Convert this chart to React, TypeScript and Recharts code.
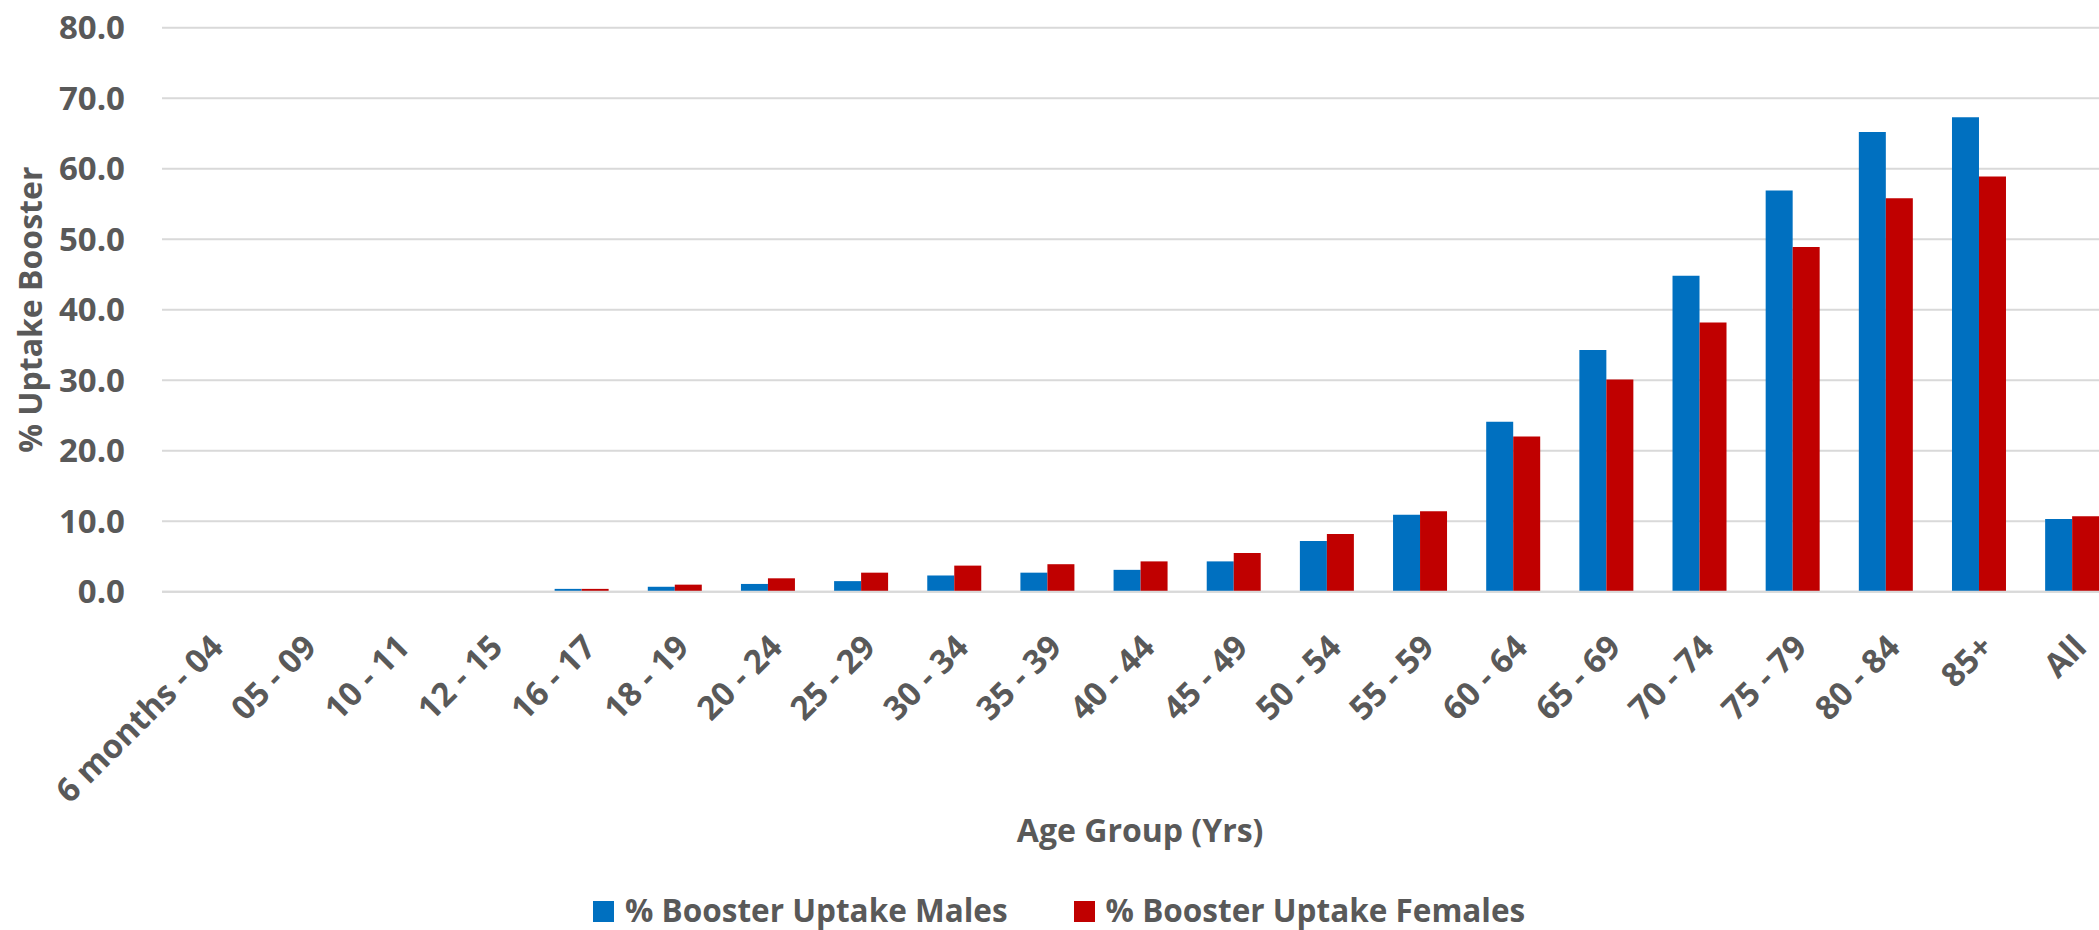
import React from "react";
import { Bar, BarChart, CartesianGrid, Legend, XAxis, YAxis } from "recharts";

const ageGroups = [
  "6 months - 04",
  "05 - 09",
  "10 - 11",
  "12 - 15",
  "16 - 17",
  "18 - 19",
  "20 - 24",
  "25 - 29",
  "30 - 34",
  "35 - 39",
  "40 - 44",
  "45 - 49",
  "50 - 54",
  "55 - 59",
  "60 - 64",
  "65 - 69",
  "70 - 74",
  "75 - 79",
  "80 - 84",
  "85+",
  "All",
];

const malesUptake = [0, 0, 0, 0.1, 0.4, 0.7, 1.1, 1.5, 2.3, 2.7, 3.1, 4.3, 7.2, 10.9, 24.1, 34.3, 44.8, 56.9, 65.2, 67.3, 10.3];
const femalesUptake = [0, 0, 0, 0.1, 0.4, 1.0, 1.9, 2.7, 3.7, 3.9, 4.3, 5.5, 8.2, 11.4, 22.0, 30.1, 38.2, 48.9, 55.8, 58.9, 10.7];

const yTicks = [0, 10, 20, 30, 40, 50, 60, 70, 80];

const series = [
  { key: "males", name: "% Booster Uptake Males", color: "#0070c0" },
  { key: "females", name: "% Booster Uptake Females", color: "#c00000" },
];

const INK = "#595959";
const GRID = "#d9d9d9";
const FONT = "'Open Sans', sans-serif";

const data = ageGroups.map((group, i) => ({
  group,
  males: malesUptake[i],
  females: femalesUptake[i],
}));

function YTitle({ viewBox }: any) {
  const cy = viewBox.y + viewBox.height / 2;
  return (
    <text
      x={42}
      y={cy}
      transform={`rotate(-90, 42, ${cy})`}
      textAnchor="middle"
      fill={INK}
      fontSize={32}
      fontWeight={700}
      fontFamily={FONT}
    >
      % Uptake Booster
    </text>
  );
}

// keep the legend in series order (recharts sorts its payload by name)
function LegendRow() {
  return (
    <div
      style={{
        height: 60,
        paddingTop: 24,
        boxSizing: "border-box",
        display: "flex",
        justifyContent: "center",
        fontFamily: FONT,
        fontSize: 31.5,
        fontWeight: 700,
        lineHeight: "32px",
        color: INK,
        whiteSpace: "nowrap",
      }}
    >
      {series.map((s, i) => (
        <span key={s.key} style={{ marginLeft: i === 0 ? 0 : 66 }}>
          <span
            style={{
              display: "inline-block",
              width: 21,
              height: 21,
              marginRight: 11,
              background: s.color,
              verticalAlign: "baseline",
            }}
          />
          {s.name}
        </span>
      ))}
    </div>
  );
}

export default function App() {
  return (
    <div
      style={{
        position: "absolute",
        left: 0,
        top: 0,
        width: 2099,
        height: 930,
        overflow: "hidden",
        background: "#ffffff",
      }}
    >
      <BarChart
        width={2140}
        height={930}
        data={data}
        margin={{ top: 27.7, right: 21.7, bottom: 0, left: 0 }}
        barCategoryGap={20}
        barGap={0}
        style={{ fontFamily: FONT }}
      >
        <CartesianGrid vertical={false} stroke={GRID} strokeWidth={2} />
        <XAxis
          dataKey="group"
          interval={0}
          height={278.3}
          angle={-45}
          textAnchor="end"
          tickLine={false}
          tickSize={6}
          tickMargin={35}
          axisLine={{ stroke: GRID, strokeWidth: 2 }}
          tick={{ fill: INK, fontSize: 33, fontWeight: 700, fontFamily: FONT }}
          label={{
            value: "Age Group (Yrs)",
            position: "insideBottom",
            offset: 28,
            fill: INK,
            fontSize: 32,
            fontWeight: 700,
            fontFamily: FONT,
          }}
        />
        <YAxis
          domain={[0, 80]}
          ticks={yTicks}
          width={162}
          tickLine={false}
          axisLine={false}
          tickSize={6}
          tickMargin={31}
          tickFormatter={(v) => Number(v).toFixed(1)}
          tick={{ fill: INK, fontSize: 33, fontWeight: 700, fontFamily: FONT }}
          label={<YTitle />}
        />
        <Legend verticalAlign="bottom" content={<LegendRow />} />
        {series.map((s) => (
          <Bar key={s.key} dataKey={s.key} name={s.name} fill={s.color} isAnimationActive={false} />
        ))}
      </BarChart>
    </div>
  );
}
